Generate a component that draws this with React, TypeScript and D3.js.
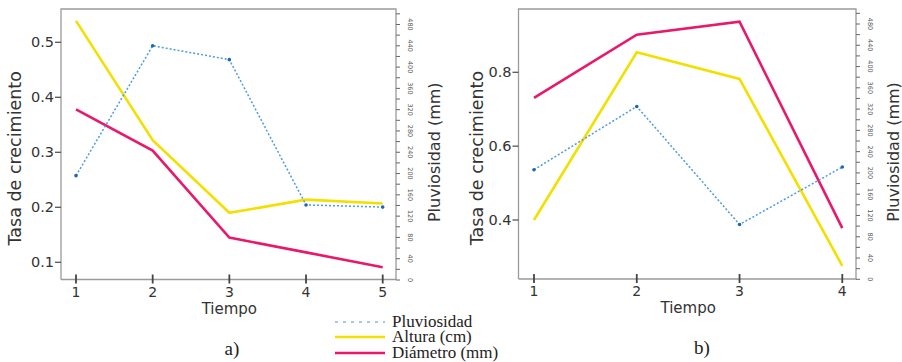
import React from "react";
import * as d3 from "d3";

// ---- Data ----
const timesA = [1, 2, 3, 4, 5];
const pluvA = [196, 440, 414, 141, 137];
const alturaA = [0.539, 0.322, 0.19, 0.214, 0.207];
const diamA = [0.378, 0.303, 0.145, 0.118, 0.091];
const yTicksA = [0.1, 0.2, 0.3, 0.4, 0.5];

const timesB = [1, 2, 3, 4];
const pluvB = [206, 325, 103, 211];
const alturaB = [0.4, 0.854, 0.782, 0.276];
const diamB = [0.731, 0.902, 0.937, 0.378];
const yTicksB = [0.4, 0.6, 0.8];

const rainTicks = [0, 40, 80, 120, 160, 200, 240, 280, 320, 360, 400, 440, 480];
const rainMinor = d3.range(0, 501, 20);

const legendLabels = ["Pluviosidad", "Altura (cm)", "Diámetro (mm)"];
const panelLabels = ["a)", "b)"];
const xTitle = "Tiempo";
const yTitle = "Tasa de crecimiento";
const y2Title = "Pluviosidad (mm)";

const C_RAIN = "#4d9be0";
const C_RAIN_PT = "#1a66b8";
const C_ALT = "#f2e000";
const C_DIAM = "#e8196b";
const AXIS = "#9a9a9a";
const SANS = "'DejaVu Sans', sans-serif";
const SERIF = "'Liberation Serif', 'Times New Roman', serif";

type PanelProps = {
  times: number[];
  pluv: number[];
  altura: number[];
  diam: number[];
  yTicks: number[];
  box: { l: number; r: number; t: number; b: number };
  xr: [number, number];
  yd: [number, number];
  yr: [number, number];
  rr: [number, number];
  yTitleX: number;
  y2TitleX: number;
  label: string;
  labelX: number;
};

function Panel(p: PanelProps) {
  const x = d3.scaleLinear().domain([p.times[0], p.times[p.times.length - 1]]).range(p.xr);
  const y = d3.scaleLinear().domain(p.yd).range(p.yr);
  const yr = d3.scaleLinear().domain([0, 480]).range(p.rr);
  const lineY = d3.line<number>().x((_, i) => x(p.times[i])).y((v) => y(v));
  const lineR = d3.line<number>().x((_, i) => x(p.times[i])).y((v) => yr(v));
  const { l, r, t, b } = p.box;
  const cx = (x.range()[0] + x.range()[1]) / 2;
  const cy = (t + b) / 2;
  return (
    <g>
      <path d={`M${l},${b}V${t}H${r}V${b}H${l}`} fill="none" stroke={AXIS} strokeWidth={1.3} />
      {p.yTicks.map((v) => (
        <g key={"y" + v}>
          <line x1={l - 6} x2={l} y1={y(v)} y2={y(v)} stroke="#555" strokeWidth={1.3} />
          <text x={l - 7} y={y(v)} dy="0.35em" textAnchor="end" fontSize={14.5} fill="#333" fontFamily={SANS}>
            {d3.format(".1f")(v)}
          </text>
        </g>
      ))}
      {p.times.map((v) => (
        <g key={"x" + v}>
          <line x1={x(v)} x2={x(v)} y1={b - 5} y2={b + 4} stroke="#444" strokeWidth={1.8} />
          <text x={x(v)} y={b + 17} textAnchor="middle" fontSize={14} fill="#333" fontFamily={SANS}>
            {v}
          </text>
        </g>
      ))}
      {rainMinor.map((v) => (
        <line key={"m" + v} x1={r} x2={r + 4} y1={yr(v)} y2={yr(v)} stroke="#666" strokeWidth={1} />
      ))}
      {rainTicks.map((v) => (
        <text
          key={"r" + v}
          transform={`translate(${r + 14},${yr(v)}) rotate(90)`}
          textAnchor="middle"
          dy="0.35em"
          fontSize={6.5}
          fill="#555"
          fontFamily={SANS}
        >
          {v}
        </text>
      ))}
      <text
        transform={`translate(${p.yTitleX},${cy + 14}) rotate(-90)`}
        textAnchor="middle"
        fontSize={17.5}
        fill="#333"
        fontFamily={SANS}
      >
        {yTitle}
      </text>
      <text
        transform={`translate(${p.y2TitleX},${cy + 8}) rotate(-90)`}
        textAnchor="middle"
        fontSize={16}
        fill="#333"
        fontFamily={SANS}
      >
        {y2Title}
      </text>
      <text x={cx} y={b + 34} textAnchor="middle" fontSize={15} fill="#333" fontFamily={SANS}>
        {xTitle}
      </text>
      <text x={p.labelX} y={b + 75} textAnchor="middle" fontSize={19} fill="#222" fontFamily={SERIF}>
        {p.label}
      </text>
      <path d={lineY(p.diam) || ""} fill="none" stroke={C_DIAM} strokeWidth={2.6} />
      <path d={lineY(p.altura) || ""} fill="none" stroke={C_ALT} strokeWidth={2.6} />
      <path d={lineR(p.pluv) || ""} fill="none" stroke={C_RAIN} strokeWidth={1.5} strokeDasharray="2,2" />
      {p.pluv.map((v, i) => (
        <circle key={"p" + i} cx={x(p.times[i])} cy={yr(v)} r={1.8} fill={C_RAIN_PT} />
      ))}
    </g>
  );
}

export default function App() {
  const legendColors = [C_RAIN, C_ALT, C_DIAM];
  const legendY = [322, 337, 353];
  return (
    <svg width={902} height={362} style={{ position: "absolute", left: 0, top: 0, background: "#fff" }}>
      <rect width={902} height={362} fill="#fff" />
      <Panel
        times={timesA}
        pluv={pluvA}
        altura={alturaA}
        diam={diamA}
        yTicks={yTicksA}
        box={{ l: 61, r: 396, t: 9, b: 279.5 }}
        xr={[76, 382.7]}
        yd={[0.1, 0.5]}
        yr={[262.3, 42.3]}
        rr={[280, 24.5]}
        yTitleX={21}
        y2TitleX={440}
        label={panelLabels[0]}
        labelX={232}
      />
      <Panel
        times={timesB}
        pluv={pluvB}
        altura={alturaB}
        diam={diamB}
        yTicks={yTicksB}
        box={{ l: 518.5, r: 856, t: 9, b: 279 }}
        xr={[534, 842.3]}
        yd={[0.4, 0.8]}
        yr={[220, 72.3]}
        rr={[279.3, 24]}
        yTitleX={483}
        y2TitleX={899}
        label={panelLabels[1]}
        labelX={702}
      />
      {legendLabels.map((lab, i) => (
        <g key={lab}>
          <line
            x1={335}
            x2={385}
            y1={legendY[i]}
            y2={legendY[i]}
            stroke={i === 0 ? "#a9c8ee" : legendColors[i]}
            strokeWidth={i === 0 ? 1.8 : 2.6}
            strokeDasharray={i === 0 ? "3,5" : undefined}
          />
          <text x={392} y={legendY[i] + 5} fontSize={17} fill="#222" fontFamily={SERIF}>
            {lab}
          </text>
        </g>
      ))}
    </svg>
  );
}
